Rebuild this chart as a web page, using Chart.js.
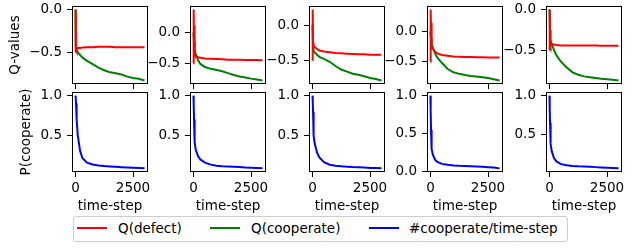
<!DOCTYPE html>
<html>
<head>
<meta charset="utf-8">
<script src="https://cdn.jsdelivr.net/npm/chart.js@4.4.1/dist/chart.umd.min.js"></script>
<style>
  body { margin: 0; width: 640px; height: 248px; position: relative; background: #fff; overflow: hidden; font-family: "DejaVu Sans", sans-serif; }
  canvas { position: absolute; }
  #legend { position: absolute; left: 73px; top: 216px; width: 495px; height: 26px; box-sizing: border-box;
            border: 1px solid #cccccc; border-radius: 3px; background: rgba(255,255,255,0.8); }
  #legend .ln { position: absolute; top: 10px; width: 30px; height: 2px; }
  #legend .tx { position: absolute; top: 3px; font-size: 13.5px; line-height: 16px; color: #000; white-space: nowrap; }
</style>
</head>
<body>
<div id="legend">
  <div class="ln" style="left:3px;background:#ff0000"></div><span class="tx" style="left:44px">Q(defect)</span>
  <div class="ln" style="left:136px;background:#008000"></div><span class="tx" style="left:177px">Q(cooperate)</span>
  <div class="ln" style="left:295px;background:#0000ff"></div><span class="tx" style="left:335px">#cooperate/time-step</span>
</div>
<script>
// time-steps shared by every run
const timeSteps = [0, 10, 25, 40, 60, 100, 200, 300, 500, 750, 1000, 1250, 1500, 1750, 2000, 2250, 2500, 2750, 3000];

// Q(defect), one row per run
const qDefect = [
  [-0.5, 0.0, -0.45, -0.46, -0.46, -0.45, -0.45, -0.445, -0.44, -0.44, -0.435, -0.435, -0.435, -0.44, -0.44, -0.44, -0.44, -0.44, -0.44],
  [-0.5, 0.38, -0.3, 0.12, -0.33, -0.38, -0.40, -0.41, -0.42, -0.425, -0.43, -0.435, -0.44, -0.44, -0.44, -0.445, -0.445, -0.445, -0.45],
  [-0.5, 0.22, -0.25, -0.28, -0.30, -0.31, -0.34, -0.36, -0.375, -0.385, -0.395, -0.40, -0.405, -0.41, -0.415, -0.415, -0.42, -0.42, -0.42],
  [-0.5, 0.37, 0.0, 0.15, -0.25, -0.28, -0.33, -0.36, -0.385, -0.40, -0.41, -0.415, -0.42, -0.42, -0.425, -0.425, -0.43, -0.43, -0.43],
  [-0.5, 0.0, -0.40, -0.42, -0.43, -0.42, -0.43, -0.435, -0.44, -0.44, -0.44, -0.44, -0.44, -0.44, -0.44, -0.445, -0.445, -0.445, -0.445]
];

// Q(cooperate), one row per run
const qCooperate = [
  [0.0, -0.35, -0.46, -0.47, -0.48, -0.50, -0.53, -0.56, -0.60, -0.64, -0.68, -0.71, -0.735, -0.745, -0.76, -0.785, -0.80, -0.81, -0.83],
  [0.0, -0.05, -0.15, -0.22, -0.28, -0.35, -0.45, -0.51, -0.56, -0.59, -0.61, -0.63, -0.66, -0.69, -0.715, -0.73, -0.75, -0.765, -0.78],
  [0.0, -0.1, -0.3, -0.35, -0.37, -0.39, -0.42, -0.45, -0.48, -0.52, -0.58, -0.63, -0.66, -0.69, -0.705, -0.725, -0.75, -0.765, -0.785],
  [0.0, -0.05, -0.1, -0.15, -0.2, -0.26, -0.36, -0.43, -0.52, -0.62, -0.675, -0.70, -0.72, -0.735, -0.745, -0.755, -0.77, -0.79, -0.81],
  [0.0, -0.1, -0.25, -0.33, -0.38, -0.42, -0.50, -0.56, -0.64, -0.71, -0.77, -0.80, -0.82, -0.83, -0.84, -0.85, -0.855, -0.86, -0.87]
];

// #cooperate/time-step, one row per run
const coopRate = [
  [1.0, 0.98, 0.9, 0.82, 0.7, 0.5, 0.3, 0.21, 0.15, 0.128, 0.115, 0.107, 0.102, 0.097, 0.093, 0.09, 0.087, 0.083, 0.078],
  [1.0, 0.9, 0.7, 0.55, 0.42, 0.32, 0.24, 0.2, 0.16, 0.135, 0.122, 0.116, 0.112, 0.108, 0.105, 0.1, 0.097, 0.093, 0.088],
  [1.0, 0.95, 0.8, 0.62, 0.5, 0.4, 0.29, 0.23, 0.17, 0.14, 0.128, 0.12, 0.115, 0.11, 0.108, 0.105, 0.1, 0.097, 0.094],
  [1.0, 0.8, 0.55, 0.4, 0.3, 0.23, 0.16, 0.13, 0.105, 0.092, 0.085, 0.08, 0.077, 0.074, 0.07, 0.066, 0.062, 0.058, 0.046],
  [1.0, 0.85, 0.65, 0.5, 0.38, 0.28, 0.19, 0.15, 0.115, 0.1, 0.092, 0.087, 0.084, 0.08, 0.076, 0.072, 0.068, 0.064, 0.06]
];

const xTickValues = [0, 2500];
const qTickValues = [-0.5, 0.0];
const pTickValues = [0.0, 0.5, 1.0];

Chart.defaults.font.family = '"DejaVu Sans", sans-serif';
Chart.defaults.font.size = 13.5;
Chart.defaults.color = '#000';

const panelLefts = [72, 190, 309, 427, 546];
const panelWidth = 76;

// matplotlib-like frame round the plot area
const boxPlugin = {
  id: 'box',
  afterDatasetsDraw(chart) {
    const a = chart.chartArea, c = chart.ctx;
    c.save();
    c.strokeStyle = '#000';
    c.lineWidth = 1;
    c.strokeRect(a.left + 0.5, a.top + 0.5, a.right - a.left - 1, a.bottom - a.top - 1);
    c.restore();
  }
};

function fmtY(v) {
  const s = Math.abs(v).toFixed(1);
  return v < -1e-9 ? '\u2212' + s : s;
}

function withMargin(lo, hi) {
  const pad = (hi - lo) * 0.05;
  return [lo - pad, hi + pad];
}

function makePanel(row, col) {
  const L = panelLefts[col];
  const axisW = col === 0 ? L : 50;
  const top = row === 0 ? 6 : 92;
  const plotH = row === 0 ? 78 : 80;
  const xAxisH = row === 0 ? 10 : 44;
  const w = axisW + panelWidth + 6, h = 6 + plotH + xAxisH;

  const cv = document.createElement('canvas');
  cv.width = w; cv.height = h;
  cv.style.left = (L - axisW) + 'px';
  cv.style.top = (top - 6) + 'px';
  cv.style.width = w + 'px';
  cv.style.height = h + 'px';
  document.body.appendChild(cv);

  const series = row === 0
    ? [{ values: qDefect[col], color: '#ff0000' }, { values: qCooperate[col], color: '#008000' }]
    : [{ values: coopRate[col], color: '#0000ff' }];

  const all = series.flatMap(s => s.values);
  const [yMin, yMax] = withMargin(Math.min(...all), Math.max(...all));
  const [xMin, xMax] = withMargin(timeSteps[0], timeSteps[timeSteps.length - 1]);
  const yCandidates = row === 0 ? qTickValues : pTickValues;

  new Chart(cv, {
    type: 'line',
    data: {
      datasets: series.map(s => ({
        data: timeSteps.map((t, i) => ({ x: t, y: s.values[i] })),
        borderColor: s.color,
        borderWidth: 2,
        pointRadius: 0,
        tension: 0,
        fill: false
      }))
    },
    options: {
      responsive: false,
      animation: false,
      devicePixelRatio: 1,
      events: [],
      layout: { padding: { left: 0, top: 6, right: 6, bottom: 0 } },
      plugins: { legend: { display: false }, tooltip: { enabled: false } },
      scales: {
        x: {
          type: 'linear', min: xMin, max: xMax,
          // fixed sizes so every plot box lands where the reference has it
          afterFit: s => { s.height = xAxisH; s.paddingLeft = 0; s.paddingRight = 0; },
          afterBuildTicks: s => { s.ticks = xTickValues.map(v => ({ value: v })); },
          ticks: { display: row === 1, padding: 3, autoSkip: false, maxRotation: 0, callback: v => String(v) },
          grid: { drawOnChartArea: false, color: '#000', lineWidth: 1, tickLength: 5 },
          border: { display: false },
          title: { display: row === 1, text: 'time-step', padding: { top: 0, bottom: 1 } }
        },
        y: {
          type: 'linear', min: yMin, max: yMax,
          afterFit: s => { s.width = axisW; s.paddingTop = 0; s.paddingBottom = 0; },
          afterBuildTicks: s => {
            s.ticks = yCandidates.filter(v => v >= yMin && v <= yMax).map(v => ({ value: v }));
          },
          ticks: { padding: 5, autoSkip: false, callback: v => fmtY(v) },
          grid: { drawOnChartArea: false, color: '#000', lineWidth: 1, tickLength: 5 },
          border: { display: false },
          title: {
            display: col === 0,
            text: row === 0 ? 'Q-values' : 'P(cooperate)',
            padding: { top: row === 0 ? 7 : 18.5, bottom: 0 }
          }
        }
      }
    },
    plugins: [boxPlugin]
  });
}

for (let row = 0; row < 2; row++) {
  for (let col = 0; col < 5; col++) makePanel(row, col);
}
</script>
</body>
</html>
